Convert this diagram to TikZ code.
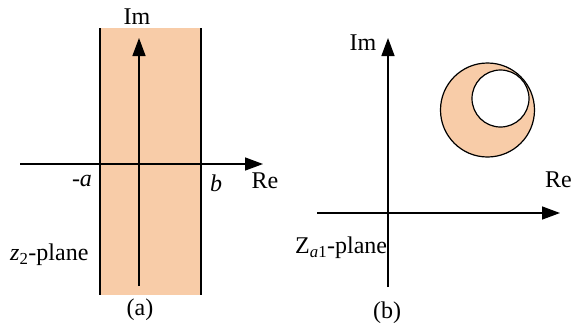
\documentclass[tikz,border=0pt]{standalone}
\usepackage{fontspec}
\setmainfont{Liberation Serif}
\usetikzlibrary{arrows.meta}
\definecolor{stripfill}{HTML}{F8CCA8}

\begin{document}
\begin{tikzpicture}[x=1pt, y=-1pt, font=\fontsize{24}{28}\selectfont,
  axis/.style={line width=1.5pt, -{Triangle[length=18pt, width=13pt]}},
  edge/.style={line width=1.2pt}]
\useasboundingbox (0,0) rectangle (573,327);
% (a) strip
\fill[stripfill] (100,28) rectangle (201,295);
\draw[edge] (100,28) -- (100,295);
\draw[edge] (201,28) -- (201,295);
\coordinate (aImS) at (139,286);
\coordinate (aImE) at (139,38);
\coordinate (aReS) at (20,164);
\coordinate (aReE) at (263,164);
\draw[axis] (aImS) -- (aImE);
\draw[axis] (aReS) -- (aReE);
\node (aIm) at (137,17) {Im};
\node (aRe) at (265,181) {Re};
\node (ma) at (82,181) {-\textit{a}};
\node (pb) at (216,183) {\textit{b}};
\node[anchor=west, inner sep=0pt] (zplane) at (10,255) {\textit{z}\textsubscript{2}-plane};
\node (capa) at (140,310) {(a)};
% (b) disc with hole
\fill[stripfill, draw=black, line width=1.2pt] (487.5,110) circle (47);
\fill[white, draw=black, line width=1.2pt] (500.5,98.5) circle (28.5);
\coordinate (bImS) at (388,287);
\coordinate (bImE) at (388,38);
\coordinate (bReS) at (317,213);
\coordinate (bReE) at (560,213);
\draw[axis] (bImS) -- (bImE);
\draw[axis] (bReS) -- (bReE);
\node (bIm) at (363,43) {Im};
\node[anchor=east, inner sep=0pt] (bRe) at (572,180) {Re};
\node[anchor=west, inner sep=0pt] (zaplane) at (295,248) {Z\textsubscript{\textit{a}1}-plane};
\node (capb) at (387,313) {(b)};
\end{tikzpicture}
\end{document}
